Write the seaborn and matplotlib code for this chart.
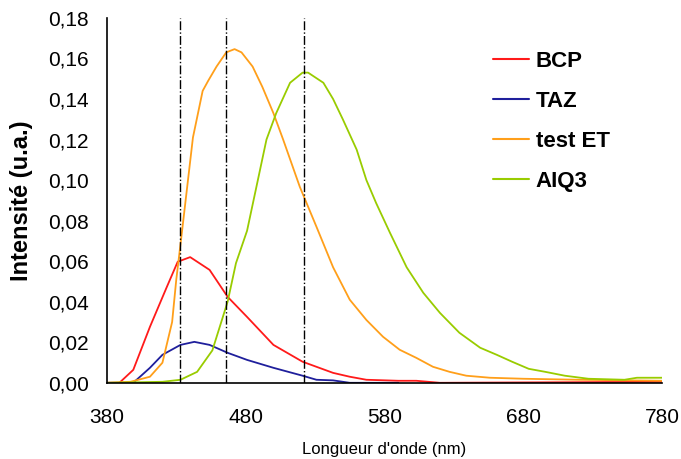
import pandas as pd
import numpy as np
import matplotlib
matplotlib.use("Agg")
import matplotlib.pyplot as plt
from matplotlib.ticker import FuncFormatter
import seaborn as sns

# spectra (wavelength in nm, intensity in u.a.)
bcp_wl = [380, 389, 399, 411, 423, 431, 440, 454, 467, 481, 500, 521, 533, 543, 555, 567, 590, 603, 620, 780]
bcp_int = [0, 0, 0.0064, 0.0276, 0.047, 0.0597, 0.062, 0.0557, 0.0424, 0.0325, 0.0187, 0.0104,
           0.0074, 0.0049, 0.003, 0.0015, 0.001, 0.001, 0, 0.0005]

taz_wl = [380, 399, 411, 420, 433, 443, 454, 467, 481, 500, 521, 531, 543, 555, 590]
taz_int = [0, 0, 0.0074, 0.0138, 0.0187, 0.0202, 0.0187, 0.0148, 0.0113, 0.0074, 0.0035, 0.0015,
           0.0012, 0, 0]

et_wl = [380, 397, 411, 420, 427, 430, 434, 442, 449, 453, 459, 466, 472, 477, 485, 492, 500, 507,
         519, 531, 543, 555, 567, 579, 591, 603, 615, 627, 639, 656, 680, 720, 780]
et_int = [0, 0.0005, 0.003, 0.0099, 0.03, 0.051, 0.074, 0.121, 0.144, 0.149, 0.156, 0.163, 0.1646,
          0.163, 0.156, 0.146, 0.133, 0.12, 0.0967, 0.077, 0.057, 0.041, 0.031, 0.0227, 0.0163,
          0.0123, 0.0079, 0.0054, 0.0035, 0.0025, 0.002, 0.0015, 0.001]

alq_wl = [380, 420, 433, 445, 456, 467, 473, 481, 495, 502, 512, 521, 525, 536, 543, 550, 560, 567,
          574, 584, 596, 608, 620, 634, 649, 661, 672, 684, 696, 710, 727, 753, 762, 780]
alq_int = [0, 0.0005, 0.0015, 0.0054, 0.016, 0.04, 0.059, 0.075, 0.12, 0.133, 0.148, 0.153, 0.153,
           0.148, 0.14, 0.13, 0.115, 0.1, 0.0887, 0.074, 0.057, 0.0444, 0.0345, 0.0247, 0.0173,
           0.0138, 0.0104, 0.0069, 0.0054, 0.0035, 0.002, 0.0015, 0.0025, 0.0025]

peaks = [433, 466, 522]
labels = ["BCP", "TAZ", "test ET", "AIQ3"]
colors = ["#ff1a1a", "#1f1f9c", "#ff9f1a", "#99cc00"]

frames = []
for name, wl, val in zip(labels, [bcp_wl, taz_wl, et_wl, alq_wl], [bcp_int, taz_int, et_int, alq_int]):
    frames.append(pd.DataFrame({"wl": wl, "val": val, "serie": name}))
df = pd.concat(frames, ignore_index=True)

sns.set_style("white")
plt.rcParams['font.family'] = ['Liberation Sans', 'DejaVu Sans']
plt.rcParams['text.color'] = 'black'
plt.rcParams['axes.labelcolor'] = 'black'
plt.rcParams['xtick.color'] = 'black'
plt.rcParams['ytick.color'] = 'black'

fig = plt.figure(figsize=(6.81, 4.59), dpi=100)
ax = fig.add_axes([0.157, 0.166, 0.815, 0.795])

sns.lineplot(data=df, x="wl", y="val", hue="serie", hue_order=labels, palette=colors,
             estimator=None, sort=False, linewidth=1.3, ax=ax, legend=False)

for p in peaks:
    ax.vlines(p, 0, 0.18, colors="black", linestyles="-.", linewidth=1.0, zorder=3)

ax.set_xlim(380, 780)
ax.set_ylim(0, 0.18)
ax.set_xticks(np.arange(380, 781, 100))
ax.set_yticks(np.arange(0, 0.181, 0.02))
ax.yaxis.set_major_formatter(FuncFormatter(lambda v, _: f"{v:.2f}".replace(".", ",")))
ax.tick_params(axis="both", direction="out", length=6, width=1, labelsize=15)
ax.tick_params(axis="x", pad=12)
ax.tick_params(axis="y", pad=7)

for s in ["top", "right"]:
    ax.spines[s].set_visible(False)
for s in ["left", "bottom"]:
    ax.spines[s].set_color("black")
    ax.spines[s].set_linewidth(1.2)

ax.set_xlabel("Longueur d'onde (nm)", fontsize=12)
ax.set_ylabel("Intensité (u.a.)", fontsize=17, fontweight="bold")
ax.xaxis.set_label_coords(0.5, -0.162)
ax.yaxis.set_label_coords(-0.133, 0.5)

handles = [plt.Line2D([], [], color=c, linewidth=1.5) for c in colors]
leg = ax.legend(handles, labels, loc="upper left", bbox_to_anchor=(493 / 681, 1 - 51 / 459),
                bbox_transform=fig.transFigure, frameon=False, borderpad=0, borderaxespad=0,
                prop={"size": 16, "weight": "bold"}, handlelength=1.6, labelspacing=0.85,
                handletextpad=0.32)

fig.savefig("out.png", dpi=100)
